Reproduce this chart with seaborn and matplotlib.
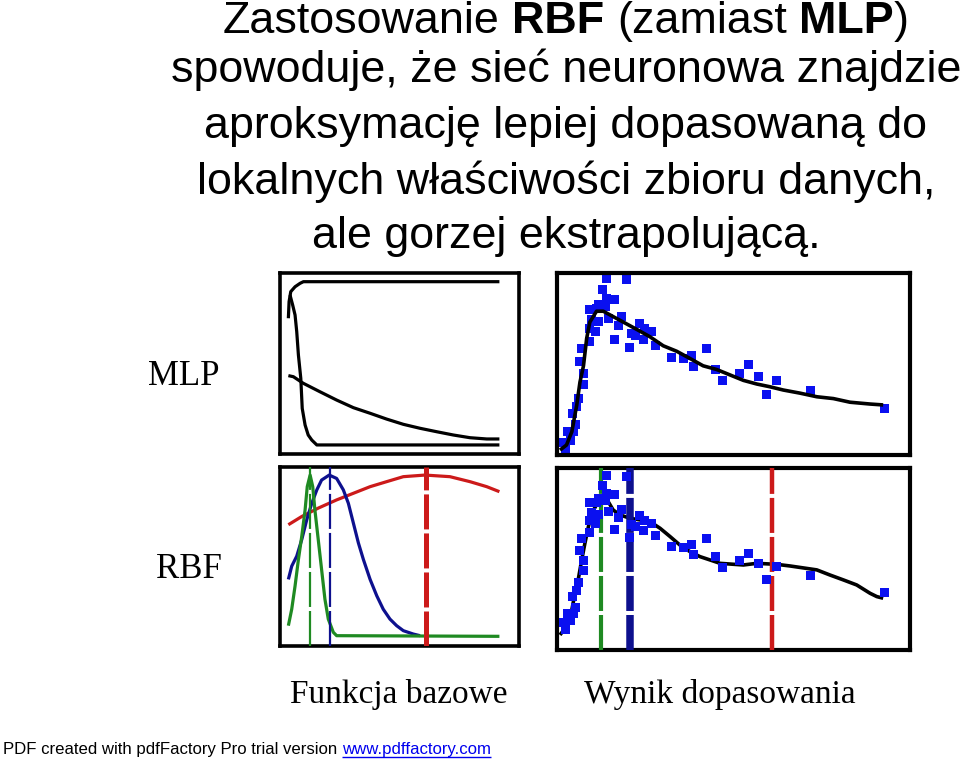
import matplotlib
matplotlib.use("Agg")
import matplotlib.pyplot as plt
import seaborn as sns
import numpy as np
import pandas as pd

# ---------------- data ----------------
# MLP basis functions (sigmoids), x in 0..100, y in 0..1
mlp_rise_x = [3.5, 3.8, 4.5, 6.3, 8.4, 9.8, 91.8]
mlp_rise_y = [0.750, 0.842, 0.897, 0.924, 0.943, 0.952, 0.952]
mlp_fall_x = [4.2, 5.3, 6.3, 7.0, 7.7, 8.7, 9.3, 10.5, 11.8, 13.3, 15.4, 91.8]
mlp_fall_y = [0.878, 0.823, 0.768, 0.676, 0.547, 0.418, 0.252, 0.160, 0.105, 0.077, 0.050, 0.050]
mlp_slow_x = [3.5, 5.6, 9.7, 16.7, 23.7, 30.7, 37.7, 44.6, 51.6, 58.6, 65.6, 72.5, 79.5, 86.5, 91.8]
mlp_slow_y = [0.433, 0.427, 0.391, 0.344, 0.298, 0.256, 0.225, 0.193, 0.164, 0.142, 0.123, 0.105, 0.090, 0.083, 0.083]

# RBF basis functions (gaussians)
rbf_green_x = [3.5, 4.9, 6.3, 7.7, 9.1, 10.5, 11.4, 12.6, 13.7, 14.6, 16.0, 17.4, 18.8, 20.2, 22.3, 23.7, 91.8]
rbf_green_y = [0.066, 0.168, 0.312, 0.476, 0.620, 0.784, 0.928, 1.0, 0.928, 0.784, 0.600, 0.415, 0.230, 0.107, 0.025, 0.004, 0.0]
rbf_blue_x = [3.5, 4.9, 7.0, 9.1, 11.2, 13.3, 15.4, 17.4, 20.6, 23.7, 26.5, 28.6, 30.7, 32.8, 34.9, 37.7,
              40.5, 43.2, 46.0, 48.8, 51.6, 55.8, 58.6]
rbf_blue_y = [0.353, 0.435, 0.497, 0.600, 0.723, 0.825, 0.908, 0.969, 1.0, 0.979, 0.908, 0.825, 0.702, 0.579,
              0.476, 0.353, 0.251, 0.168, 0.107, 0.066, 0.035, 0.014, 0.004]
rbf_red_x = [3.5, 9.1, 16.0, 23.7, 30.7, 37.7, 44.6, 51.6, 60.7, 71.1, 79.5, 86.5, 91.8]
rbf_red_y = [0.692, 0.743, 0.795, 0.846, 0.887, 0.928, 0.959, 0.990, 1.0, 0.990, 0.959, 0.928, 0.897]
rbf_centers = [12.6, 20.8, 61.0]

# observed data points
data_x = [14.1, 19.7, 12.9, 14.1, 16.4, 11.7, 9.3, 11.2, 13.6, 18.3, 9.8, 11.7, 14.5, 10.8, 9.3, 17.4,
          23.5, 24.9, 22.1, 21.2, 26.8, 16.4, 24.4, 20.4, 27.8, 9.3, 7.0, 32.5, 6.5, 7.5, 7.6, 6.0,
          5.6, 4.3, 5.1, 3.0, 4.6, 1.8, 3.7, 2.3, 35.8, 38.2, 38.6, 42.4, 44.8, 46.9, 51.8, 54.2,
          57.0, 62.2, 59.4, 71.7, 92.9]
data_y = [0.971, 0.962, 0.910, 0.861, 0.852, 0.828, 0.802, 0.806, 0.815, 0.760, 0.742, 0.732, 0.751,
          0.677, 0.696, 0.714, 0.724, 0.696, 0.659, 0.669, 0.677, 0.637, 0.632, 0.592, 0.604, 0.623,
          0.586, 0.535, 0.513, 0.449, 0.390, 0.312, 0.265, 0.229, 0.165, 0.128, 0.128, 0.068, 0.082,
          0.031, 0.531, 0.544, 0.485, 0.586, 0.471, 0.407, 0.449, 0.495, 0.430, 0.412, 0.335, 0.357,
          0.257]

# MLP fit
mlp_fit_x = [0.85, 2.7, 4.2, 5.6, 6.5, 7.5, 8.4, 9.3, 11.2, 13.1, 15.0, 18.8, 22.6, 26.3, 30.1, 33.9,
             37.7, 41.4, 45.2, 49.0, 52.8, 56.6, 60.3, 64.1, 68.8, 73.6, 78.3, 83.0, 88.7, 92.4]
mlp_fit_y = [0.027, 0.055, 0.128, 0.275, 0.40, 0.49, 0.64, 0.73, 0.79, 0.79, 0.77, 0.73, 0.69, 0.65,
             0.60, 0.57, 0.53, 0.49, 0.47, 0.44, 0.41, 0.39, 0.375, 0.357, 0.34, 0.32, 0.31, 0.29,
             0.28, 0.275]
# RBF fit
rbf_fit_x = [0.85, 2.3, 3.2, 4.2, 5.1, 6.0, 7.0, 7.9, 8.9, 9.8, 11.2, 13.1, 14.5, 15.9, 17.8, 20.7,
             23.5, 26.3, 29.2, 32.0, 34.8, 37.7, 40.5, 43.3, 46.2, 52.8, 56.6, 62.2, 66.0, 73.6, 77.3,
             81.1, 84.9, 88.7, 90.6, 92.4]
rbf_fit_y = [-0.005, 0.036, 0.107, 0.148, 0.249, 0.331, 0.453, 0.554, 0.656, 0.738, 0.789, 0.829,
             0.809, 0.758, 0.728, 0.707, 0.697, 0.687, 0.646, 0.596, 0.544, 0.503, 0.473, 0.453,
             0.432, 0.422, 0.432, 0.426, 0.416, 0.392, 0.361, 0.331, 0.300, 0.249, 0.229, 0.219]

title_lines = ["spowoduje, że sieć neuronowa znajdzie",
               "aproksymację lepiej dopasowaną do",
               "lokalnych właściwości zbioru danych,",
               "ale gorzej ekstrapolującą."]
title_first = [("Zastosowanie ", "normal"), ("RBF", "bold"), (" (zamiast ", "normal"),
               ("MLP", "bold"), (")", "normal")]
row_labels = ["MLP", "RBF"]
col_labels = ["Funkcja bazowe", "Wynik dopasowania"]
footer_text = "PDF created with pdfFactory Pro trial version "
footer_link = "www.pdffactory.com"

# ---------------- style ----------------
sns.set_theme(style="white")
plt.rcParams["font.family"] = ["Liberation Sans", "DejaVu Sans"]
plt.rcParams["text.color"] = "black"
plt.rcParams["lines.scale_dashes"] = False
plt.rcParams["lines.solid_capstyle"] = "butt"

GREEN = "#1f8a22"
NAVY = "#0d108e"
RED = "#cc1a1a"
BLUE = "#0a10f0"

W, H = 960, 761
fig = plt.figure(figsize=(W / 100, H / 100), dpi=100)
renderer = fig.canvas.get_renderer()


def px_axes(x0, y0, x1, y1):
    return fig.add_axes([x0 / W, 1 - y1 / H, (x1 - x0) / W, (y1 - y0) / H])


def frame(ax, lw=2.6):
    ax.set_xticks([])
    ax.set_yticks([])
    for s in ax.spines.values():
        s.set_visible(True)
        s.set_color("black")
        s.set_linewidth(lw)
    ax.set_facecolor("white")


def line(ax, x, y, color, lw=2.3, z=2):
    sns.lineplot(x=x, y=y, ax=ax, color=color, linewidth=lw, estimator=None, sort=False,
                 zorder=z, legend=False)


ax_tl = px_axes(280, 273, 519, 454)
ax_tr = px_axes(557, 273, 910, 455)
ax_bl = px_axes(280, 467, 519, 646)
ax_br = px_axes(557, 468, 910, 650)

# top-left: MLP basis
line(ax_tl, mlp_rise_x, mlp_rise_y, "black")
line(ax_tl, mlp_fall_x, mlp_fall_y, "black")
line(ax_tl, mlp_slow_x, mlp_slow_y, "black")
ax_tl.set_xlim(0, 100)
ax_tl.set_ylim(0, 1)
frame(ax_tl)

# top-right: MLP fit
df_pts = pd.DataFrame({"x": data_x, "y": data_y})
sns.scatterplot(data=df_pts, x="x", y="y", ax=ax_tr, marker="s", s=42, color=BLUE,
                edgecolor="none", linewidth=0, zorder=2)
line(ax_tr, mlp_fit_x, mlp_fit_y, "black", lw=2.6, z=3)
ax_tr.set_xlim(0, 100)
ax_tr.set_ylim(0, 1)
frame(ax_tr, 3.0)

# bottom-left: RBF basis
dash = (25.2, 2.9)
line(ax_bl, rbf_red_x, rbf_red_y, RED)
line(ax_bl, rbf_blue_x, rbf_blue_y, NAVY)
line(ax_bl, rbf_green_x, rbf_green_y, GREEN)
for c, col, lw in zip(rbf_centers, [GREEN, NAVY, RED], [1.6, 1.6, 3.6]):
    ax_bl.axvline(c, color=col, linewidth=lw, dashes=dash, zorder=3)
ax_bl.set_xlim(0, 100)
ax_bl.set_ylim(-0.06, 1.05)
frame(ax_bl)

# bottom-right: RBF fit
line(ax_br, rbf_fit_x, rbf_fit_y, "black", lw=2.6, z=2)
for c, col, lw in zip(rbf_centers, [GREEN, NAVY, RED], [3.0, 5.4, 3.2]):
    ax_br.axvline(c, color=col, linewidth=lw, dashes=dash, zorder=3)
sns.scatterplot(data=df_pts, x="x", y="y", ax=ax_br, marker="s", s=42, color=BLUE,
                edgecolor="none", linewidth=0, zorder=4)
ax_br.set_xlim(0, 100)
ax_br.set_ylim(-0.097, 1.014)
frame(ax_br, 3.0)
for a in (ax_tl, ax_tr, ax_bl, ax_br):
    a.set_xlabel("")
    a.set_ylabel("")

# ---------------- text ----------------
TSIZE = 32.3
cx = 566


def text_w(s, **kw):
    t = fig.text(0, 0, s, **kw)
    w = t.get_window_extent(renderer).width
    t.remove()
    return w


def chain(pieces, x_center, y_base, size, **kw):
    sp = text_w("a a", fontsize=size, **kw) - text_w("aa", fontsize=size, **kw)
    items = []
    for s, wgt in pieces:
        lead = len(s) - len(s.lstrip(" "))
        trail = len(s) - len(s.rstrip(" "))
        core = s.strip(" ")
        w = text_w(core, fontsize=size, fontweight=wgt, **kw)
        items.append((lead * sp, core, wgt, w, trail * sp))
    total = sum(a + w + b for a, _, _, w, b in items)
    x = x_center - total / 2
    for a, core, wgt, w, b in items:
        x += a
        fig.text(x / W, 1 - y_base / H, core, fontsize=size, fontweight=wgt,
                 ha="left", va="baseline", color="black", **kw)
        x += w + b


chain(title_first, cx, 33, TSIZE)
for s, yb in zip(title_lines, [82, 138, 194, 248]):
    fig.text(cx / W, 1 - yb / H, s, fontsize=TSIZE, ha="center", va="baseline", color="black")

serif = ["Liberation Serif", "DejaVu Serif"]
fig.text(184 / W, 1 - 385 / H, row_labels[0], fontsize=25, family=serif, ha="center", va="baseline", color="black")
fig.text(189 / W, 1 - 578 / H, row_labels[1], fontsize=25, family=serif, ha="center", va="baseline", color="black")
fig.text(399 / W, 1 - 703 / H, col_labels[0], fontsize=24, family=serif, ha="center", va="baseline", color="black")
fig.text(720 / W, 1 - 703 / H, col_labels[1], fontsize=24, family=serif, ha="center", va="baseline", color="black")

# footer
fsize = 12.1
t1 = fig.text(3 / W, 1 - 754 / H, footer_text.rstrip(), fontsize=fsize, ha="left", va="baseline", color="black")
w1 = t1.get_window_extent(renderer).width
sp = text_w("a a", fontsize=fsize) - text_w("aa", fontsize=fsize)
x_link = 3 + w1 + sp
t2 = fig.text(x_link / W, 1 - 754 / H, footer_link, fontsize=fsize, ha="left", va="baseline",
              color="#0000ee")
w2 = t2.get_window_extent(renderer).width
fig.add_artist(plt.Line2D([x_link / W, (x_link + w2) / W], [1 - 757 / H, 1 - 757 / H],
                          color="#0000ee", linewidth=1.0))

fig.savefig("out.png", dpi=100, facecolor="white")
